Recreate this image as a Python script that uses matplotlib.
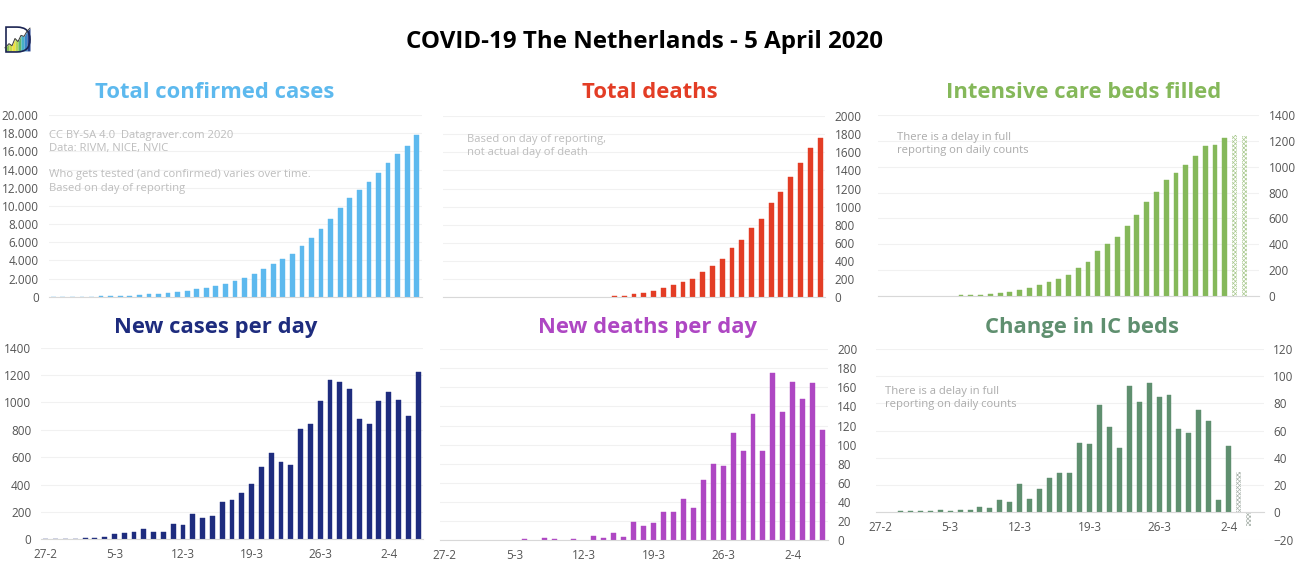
import matplotlib
matplotlib.use('Agg')
import matplotlib.pyplot as plt
from matplotlib.patches import PathPatch
from matplotlib.path import Path
import numpy as np

W, H = 1300, 587

days = ['27-2', '28-2', '29-2'] + ['%d-3' % d for d in range(1, 32)] + ['%d-4' % d for d in range(1, 6)]

total_cases = [1, 2, 7, 10, 18, 24, 38, 82, 128, 188, 265, 321, 382, 503, 614, 804, 959, 1135, 1413, 1705,
               2051, 2460, 3003, 3631, 4204, 4749, 5560, 6412, 7431, 8603, 9762, 10866, 11750, 12595, 13614,
               14697, 15723, 16627, 17851]
new_cases = [1, 1, 5, 3, 8, 6, 15, 38, 46, 53, 75, 53, 53, 114, 107, 185, 155, 170, 272, 287,
             340, 404, 528, 628, 565, 543, 805, 845, 1010, 1165, 1148, 1095, 876, 840, 1010,
             1078, 1017, 900, 1219]
total_deaths = [0, 0, 0, 0, 0, 0, 0, 0, 0, 0, 0, 0, 0, 0, 0, 0, 0, 10, 12, 38, 52, 73, 99, 132, 168, 202,
                276, 346, 426, 544, 636, 765, 860, 1037, 1162, 1327, 1478, 1647, 1761]
new_deaths = [0, 0, 0, 0, 0, 0, 0, 0, 1, 0, 2, 1, 0, 1, 0, 5, 2, 8, 3, 19, 15, 18, 30, 30, 43, 34,
              63, 80, 78, 112, 93, 132, 93, 175, 134, 166, 148, 164, 115]
ic_beds = [0, 0, 0, 0, 0, 0, 0, 0, 8, 8, 10, 18, 26, 34, 49, 59, 85, 108, 131, 165, 214, 265,
           345, 402, 454, 544, 626, 724, 807, 897, 954, 1010, 1085, 1160, 1167, 1219]
ic_beds_pending = [1245, 1240]
ic_change = [0, 0, 1, 1, 1, 1, 2, 1, 2, 2, 4, 3, 9, 8, 21, 10, 17, 25, 29, 29, 51, 50, 79, 63,
             47, 93, 81, 95, 85, 86, 61, 58, 75, 67, 9, 49]
ic_change_pending = [30, -10]

BLUE = '#5DB9EE'
RED = '#E33D25'
GREEN = '#85B85A'
NAVY = '#1E2C7E'
PURPLE = '#AE47C3'
SAGE = '#5F8F6F'

plt.rcParams['font.family'] = ['Open Sans', 'DejaVu Sans']
plt.rcParams['hatch.linewidth'] = 0.5

fig = plt.figure(figsize=(W / 100, H / 100), dpi=100, facecolor='white')


def px_axes(left, right, top, bottom):
    return fig.add_axes([left / W, 1 - bottom / H, (right - left) / W, (bottom - top) / H])


def panel(box, values, color, ymin, ymax, step, side, title, title_x, title_y, show_days=True, dots=False):
    ax = px_axes(*box)
    # zero days get no bar at all, the very small ones still show as a dash
    xs = [i for i, v in enumerate(values) if v != 0]
    ax.bar(xs, [values[i] for i in xs], width=0.5, color=color, edgecolor=color, linewidth=0.3)
    ax.set_xlim(-0.5, len(days) - 0.5)
    ax.set_ylim(ymin, ymax)
    ax.set_yticks(np.arange(ymin, ymax + 1, step))
    ax.grid(axis='y', color='#F1F1F1', linewidth=0.8)
    ax.set_axisbelow(True)
    for s in ['top', 'left', 'right']:
        ax.spines[s].set_visible(False)
    ax.spines['bottom'].set_position(('data', 0))
    ax.spines['bottom'].set_color('#D8D8D8')
    ax.tick_params(axis='both', length=0, labelsize=8.5, labelcolor='#555555')
    ax.tick_params(axis='y', pad=7)
    ax.tick_params(axis='x', pad=6)
    if side == 'right':
        ax.yaxis.tick_right()
    if dots:
        ax.set_yticks(np.arange(ymin, ymax + 1, step),
                      [f'{v:,}'.replace(',', '.') for v in range(ymin, ymax + 1, step)])
    if show_days:
        ax.set_xticks(range(0, len(days), 7), days[::7])
    else:
        ax.set_xticks([])
    fig.text(title_x / W, 1 - title_y / H, title, color=color, fontsize=15.8, fontweight='bold',
             ha='center', va='center')
    return ax


def note(x, y, txt, color='#BDBDBD'):
    fig.text(x / W, 1 - y / H, txt, color=color, fontsize=8.15, va='top', linespacing=1.27)


def pending(ax, start, values, color):
    ax.bar(range(start, start + len(values)), values, width=0.55, facecolor='white', edgecolor=color,
           hatch='xxxxxxxx', linewidth=0)


panel((48.5, 421.5, 115, 296.7), total_cases, BLUE, 0, 20000, 2000, 'left', 'Total confirmed cases', 215, 93,
      show_days=False, dots=True)
panel((443, 825, 116, 297.3), total_deaths, RED, 0, 2000, 200, 'right', 'Total deaths', 650, 93, show_days=False)
ax3 = panel((878, 1259, 115, 296), ic_beds, GREEN, 0, 1400, 200, 'right', 'Intensive care beds filled', 1084, 93,
            show_days=False)
pending(ax3, len(ic_beds), ic_beds_pending, '#A9C98F')
panel((41, 423, 347.7, 539.3), new_cases, NAVY, 0, 1400, 200, 'left', 'New cases per day', 216, 327)
panel((439.7, 827.6, 349, 540.3), new_deaths, PURPLE, 0, 200, 20, 'right', 'New deaths per day', 647, 327)
ax6 = panel((875.5, 1263.5, 349, 539.7), ic_change, SAGE, -20, 120, 20, 'right', 'Change in IC beds', 1082, 327)
pending(ax6, len(ic_change), ic_change_pending, '#A9B3AC')

fig.text(645 / W, 1 - 42 / H, 'COVID-19 The Netherlands - 5 April 2020', color='black', fontsize=17.4,
         fontweight='bold', ha='center', va='center')

note(49, 130, 'CC BY-SA 4.0  Datagraver.com 2020\nData: RIVM, NICE, NVIC\n\n'
     'Who gets tested (and confirmed) varies over time.\nBased on day of reporting')
note(466.7, 134, 'Based on day of reporting,\nnot actual day of death')
note(897, 132, 'There is a delay in full\nreporting on daily counts', '#ABABAB')
note(885, 386, 'There is a delay in full\nreporting on daily counts', '#ABABAB')

# logo: letter D with a little rainbow area chart in it
logo = px_axes(3, 32, 25, 53)
logo.set_xlim(0, 29)
logo.set_ylim(27, 0)
logo.axis('off')
logo_x = np.array([2, 6, 9, 12, 15, 18, 21, 24, 27])
logo_y = np.array([22, 18, 20, 13, 16, 10, 11, 6, 3])
logo_col = ['#8CC152', '#C8D94A', '#F2E13C', '#B7D655', '#5FB56B', '#45B0C8', '#3A86C8', '#24408E']
for i in range(len(logo_col)):
    logo.fill_between(logo_x[i:i + 2], logo_y[i:i + 2], 25, color=logo_col[i], linewidth=0)
logo.plot(logo_x, logo_y, color='#3A3A3A', linewidth=0.7)
d_path = Path([(3, 2), (14, 2), (27, 2), (27, 14), (27, 26), (14, 26), (3, 26), (3, 2)],
              [Path.MOVETO, Path.LINETO, Path.CURVE3, Path.CURVE3, Path.CURVE3, Path.CURVE3, Path.LINETO, Path.CLOSEPOLY])
logo.add_patch(PathPatch(d_path, facecolor='none', edgecolor='#1B2452', linewidth=1.2))

fig.savefig('out.png', dpi=100, facecolor='white')
